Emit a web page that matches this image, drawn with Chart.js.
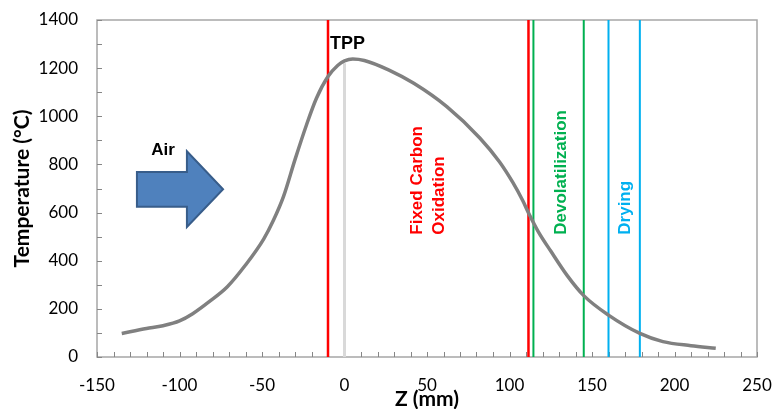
<!DOCTYPE html>
<html>
<head>
<meta charset="utf-8">
<script src="https://cdn.jsdelivr.net/npm/chart.js@4.4.1/dist/chart.umd.min.js"></script>
<style>
  html, body { margin: 0; padding: 0; background: #fff; }
  #wrap { width: 772px; height: 409px; }
</style>
</head>
<body>
<div id="wrap"><canvas id="chart" width="772" height="409"></canvas></div>
<script>
// temperature profile along the bed
const zValues = [-135, -120, -110, -100, -92, -82, -71, -60, -49, -43, -37, -30, -23, -17, -10, -4, 0, 5, 12, 27, 42, 62, 82, 94, 102, 108, 112, 117.5, 125, 135, 145, 160, 179, 193, 210, 225];
const tempValues = [98, 118, 130, 150, 180, 230, 292, 382, 490, 569, 666, 820, 965, 1075, 1165, 1212, 1230, 1238, 1232, 1192, 1137, 1040, 910, 810, 725, 650, 592, 520, 440, 338, 255, 174, 98, 64, 47, 36];

// zone boundaries (mm)
const redLines = [-10, 111.5];
const greenLines = [114.5, 145];
const blueLines = [160, 179];
const tppZ = 0;
const tppTop = 1220;

const xMin = -150, xMax = 250, yMin = 0, yMax = 1400;

function vline(x, color, width, top) {
  return {
    data: [{ x: x, y: yMin }, { x: x, y: top }],
    borderColor: color,
    borderWidth: width,
    pointRadius: 0,
    showLine: true,
    order: 2
  };
}

const datasets = [
  vline(tppZ, '#d9d9d9', 3, tppTop),
  ...redLines.map(x => vline(x, '#ff0000', 2.5, yMax)),
  ...greenLines.map(x => vline(x, '#00b050', 2, yMax)),
  ...blueLines.map(x => vline(x, '#00b0f0', 2, yMax)),
  {
    data: zValues.map((z, i) => ({ x: z, y: tempValues[i] })),
    borderColor: '#808080',
    borderWidth: 3.5,
    pointRadius: 0,
    showLine: true,
    cubicInterpolationMode: 'monotone',
    order: 1
  }
];

// box border, inside tick marks, arrow and labels
const decor = {
  id: 'decor',
  beforeDatasetsDraw(chart) {
    const { ctx, chartArea: a, scales: { x, y } } = chart;
    ctx.save();
    ctx.strokeStyle = '#a6a6a6';
    ctx.lineWidth = 1.5;
    ctx.strokeRect(a.left, a.top, a.right - a.left, a.bottom - a.top);
    ctx.strokeStyle = '#868686';
    ctx.lineWidth = 1;
    ctx.beginPath();
    y.ticks.forEach(t => {
      const py = Math.round(y.getPixelForValue(t.value)) + 0.5;
      ctx.moveTo(a.left, py); ctx.lineTo(a.left + 5, py);
    });
    x.ticks.forEach(t => {
      const px = Math.round(x.getPixelForValue(t.value)) + 0.5;
      ctx.moveTo(px, a.bottom); ctx.lineTo(px, a.bottom - 5);
    });
    ctx.stroke();
    ctx.restore();
  },
  afterDatasetsDraw(chart) {
    const { ctx, scales: { x, y } } = chart;
    const X = v => x.getPixelForValue(v), Y = v => y.getPixelForValue(v);
    ctx.save();
    // Air arrow
    ctx.beginPath();
    ctx.moveTo(X(-125.8), Y(769));
    ctx.lineTo(X(-95.5), Y(769));
    ctx.lineTo(X(-95.5), Y(855));
    ctx.lineTo(X(-73.6), Y(697));
    ctx.lineTo(X(-95.5), Y(540));
    ctx.lineTo(X(-95.5), Y(624));
    ctx.lineTo(X(-125.8), Y(624));
    ctx.closePath();
    ctx.fillStyle = '#4f81bd';
    ctx.fill();
    ctx.strokeStyle = '#385d8a';
    ctx.lineWidth = 2;
    ctx.stroke();

    ctx.font = 'bold 17px "Liberation Sans", Arial, sans-serif';
    ctx.fillStyle = '#000';
    ctx.textAlign = 'center';
    ctx.textBaseline = 'alphabetic';
    ctx.fillText('Air', X(-110), Y(840));
    ctx.font = 'bold 18px "Liberation Sans", Arial, sans-serif';
    ctx.textAlign = 'left';
    ctx.fillText('TPP', X(-10) + 2, Y(1278));

    // rotated zone labels
    const rot = (text, zx, color) => {
      ctx.save();
      ctx.translate(X(zx), Y(508));
      ctx.rotate(-Math.PI / 2);
      ctx.font = 'bold 17px "Liberation Sans", Arial, sans-serif';
      ctx.fillStyle = color;
      ctx.textAlign = 'left';
      ctx.textBaseline = 'middle';
      ctx.fillText(text, 0, 0);
      ctx.restore();
    };
    rot('Fixed Carbon', 44.2, '#ff0000');
    rot('Oxidation', 57.3, '#ff0000');
    rot('Devolatilization', 131.2, '#00b050');
    rot('Drying', 170, '#00b0f0');
    ctx.restore();
  }
};

new Chart(document.getElementById('chart'), {
  type: 'scatter',
  data: { datasets: datasets },
  options: {
    responsive: false,
    animation: false,
    layout: { padding: { left: 0, top: 20, right: 15, bottom: 0 } },
    plugins: { legend: { display: false }, tooltip: { enabled: false } },
    scales: {
      x: {
        type: 'linear', min: xMin, max: xMax,
        afterFit: s => { s.height = 52; s.paddingLeft = 0; s.paddingRight = 0; },
        grid: { display: false, drawTicks: false },
        border: { display: false },
        ticks: {
          stepSize: 10, autoSkip: false, maxRotation: 0, padding: 18,
          color: '#000',
          font: { family: 'Lato', size: 17 },
          callback: v => (v % 50 === 0 ? v : '')
        },
        title: {
          display: true, text: 'Z (mm)', color: '#000',
          font: { family: 'Lato', size: 21, weight: 'bold' },
          padding: { top: 0, bottom: -3 }
        }
      },
      y: {
        type: 'linear', min: yMin, max: yMax,
        afterFit: s => { s.width = 97; s.paddingTop = 0; s.paddingBottom = 0; },
        grid: { display: false, drawTicks: false },
        border: { display: false },
        ticks: {
          stepSize: 100, autoSkip: false, padding: 19,
          color: '#000',
          font: { family: 'Lato', size: 17 },
          callback: v => (v % 200 === 0 ? v : '')
        },
        title: {
          display: true, text: 'Temperature (°C)', color: '#000',
          font: { family: 'Lato', size: 21, weight: 'bold' },
          padding: { top: 10, bottom: 0 }
        }
      }
    }
  },
  plugins: [decor]
});
</script>
</body>
</html>
